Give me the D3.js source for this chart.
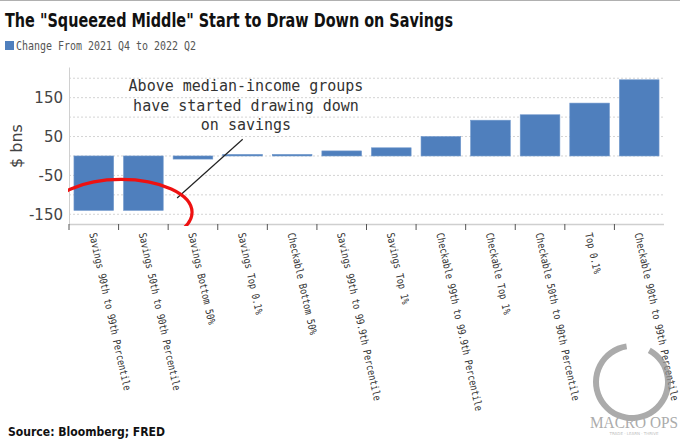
<!DOCTYPE html>
<html>
<head>
<meta charset="utf-8">
<script src="https://cdn.jsdelivr.net/npm/d3@7"></script>
<style>
  body { margin: 0; background: #fff; }
  svg { display: block; }
</style>
</head>
<body>
<script>
// chart data
var categories = [
  "Savings 90th to 99th Percentile",
  "Savings 50th to 90th Percentile",
  "Savings Bottom 50%",
  "Savings Top 0.1%",
  "Checkable Bottom 50%",
  "Savings 99th to 99.9th Percentile",
  "Savings Top 1%",
  "Checkable 99th to 99.9th Percentile",
  "Checkable Top 1%",
  "Checkable 50th to 90th Percentile",
  "Top 0.1%",
  "Checkable 90th to 99th Percentile"
];
var values = [-140, -140, -8, 4, 4, 13, 21, 50, 92, 106, 136, 196];
var yTicks = [150, 50, -50, -150];
var yTickLabels = ["150", "50", "-50", "-150"];
var gridValues = [200, 150, 100, 50, 0, -50, -100, -150];
var noteLines = ["Above median-income groups", "have started drawing down", "on savings"];

var W = 680, H = 439;
// plot box (note: "top" is a reserved window global, so use pTop etc.)
var pLeft = 69, pRight = 664, pTop = 68.5, pBottom = 224;

var svg = d3.select("body").append("svg").attr("width", W).attr("height", H);

var x = d3.scaleBand()
    .domain(categories)
    .range([pLeft, pRight])
    .paddingInner(0.2)
    .paddingOuter(0.1);

var y = d3.scaleLinear()
    .domain([-175, 225])
    .range([pBottom, pTop]);

var step = x.step();

// top rule
svg.append("line")
    .attr("x1", 0).attr("x2", W).attr("y1", 0.5).attr("y2", 0.5)
    .attr("stroke", "#b0b0b0").attr("stroke-width", 1);

// title + legend
svg.append("text")
    .attr("x", 5).attr("y", 27)
    .attr("font-family", "DejaVu Sans")
    .attr("font-weight", "bold")
    .attr("font-size", 19)
    .attr("textLength", 448)
    .attr("lengthAdjust", "spacingAndGlyphs")
    .attr("fill", "#111")
    .text('The "Squeezed Middle" Start to Draw Down on Savings');

svg.append("rect")
    .attr("x", 5).attr("y", 41).attr("width", 9).attr("height", 9)
    .attr("fill", "#4f7fbd");
svg.append("text")
    .attr("x", 16).attr("y", 50)
    .attr("font-family", "DejaVu Sans Mono")
    .attr("font-size", 12.5)
    .attr("textLength", 180)
    .attr("lengthAdjust", "spacingAndGlyphs")
    .attr("fill", "#555")
    .text("Change From 2021 Q4 to 2022 Q2");

// gridlines
svg.selectAll("line.grid")
    .data(gridValues)
    .enter().append("line")
    .attr("class", "grid")
    .attr("x1", pLeft).attr("x2", pRight)
    .attr("y1", function(d){ return y(d); })
    .attr("y2", function(d){ return y(d); })
    .attr("stroke", "#d4d4d4")
    .attr("stroke-dasharray", "2,2");

// left axis line
svg.append("line")
    .attr("x1", pLeft + 0.5).attr("x2", pLeft + 0.5)
    .attr("y1", pTop - 1).attr("y2", pBottom)
    .attr("stroke", "#d0d0d0");

// y tick labels
svg.selectAll("text.ytick")
    .data(yTicks)
    .enter().append("text")
    .attr("class", "ytick")
    .attr("x", 63)
    .attr("y", function(d){ return y(d); })
    .attr("dy", "0.36em")
    .attr("text-anchor", "end")
    .attr("font-family", "DejaVu Sans")
    .attr("font-size", 15)
    .attr("fill", "#444")
    .text(function(d, i){ return yTickLabels[i]; });

svg.append("text")
    .attr("transform", "translate(22,146) rotate(-90)")
    .attr("text-anchor", "middle")
    .attr("font-family", "DejaVu Sans")
    .attr("font-size", 16)
    .attr("fill", "#444")
    .text("$ bns");

// bars
svg.selectAll("rect.bar")
    .data(values)
    .enter().append("rect")
    .attr("class", "bar")
    .attr("x", function(d, i){ return x(categories[i]); })
    .attr("width", x.bandwidth())
    .attr("y", function(d){ return d > 0 ? y(d) : y(0); })
    .attr("height", function(d){ return Math.abs(y(d) - y(0)); })
    .attr("fill", "#4f7fbd")
    .attr("stroke", "#6f97cc")
    .attr("stroke-width", 0.6);

// x axis line + ticks
svg.append("line")
    .attr("x1", pLeft).attr("x2", pRight)
    .attr("y1", pBottom + 0.5).attr("y2", pBottom + 0.5)
    .attr("stroke", "#cfcfcf").attr("stroke-width", 1.5);

var tickPos = categories.map(function(c){ return x(c) - step * 0.1; });
svg.selectAll("line.xtick")
    .data(tickPos)
    .enter().append("line")
    .attr("class", "xtick")
    .attr("x1", function(d){ return d; })
    .attr("x2", function(d){ return d; })
    .attr("y1", pBottom).attr("y2", pBottom + 6)
    .attr("stroke", "#555");

// x labels
svg.selectAll("text.xlab")
    .data(categories)
    .enter().append("text")
    .attr("class", "xlab")
    .attr("transform", function(d){
      return "translate(" + (x(d) + x.bandwidth() / 2 - 1) + "," + (pBottom + 9) + ") rotate(77.5)";
    })
    .attr("dy", "0.35em")
    .attr("font-family", "DejaVu Sans Mono")
    .attr("font-size", 10.5)
    .attr("textLength", function(d){ return d.length * 5.2; })
    .attr("lengthAdjust", "spacingAndGlyphs")
    .attr("fill", "#333")
    .text(function(d){ return d; });

// annotation
svg.selectAll("text.note")
    .data(noteLines)
    .enter().append("text")
    .attr("class", "note")
    .attr("x", 246)
    .attr("y", function(d, i){ return 91 + i * 19.5; })
    .attr("text-anchor", "middle")
    .attr("font-family", "DejaVu Sans Mono")
    .attr("font-size", 15)
    .attr("fill", "#333")
    .text(function(d){ return d; });

svg.append("line")
    .attr("x1", x(categories[2]) + 4).attr("y1", y(-108))
    .attr("x2", x(categories[3]) + 20).attr("y2", y(43))
    .attr("stroke", "#222").attr("stroke-width", 1.2);

svg.append("clipPath").attr("id", "plotclip")
  .append("rect")
    .attr("x", pLeft - 1).attr("y", 0)
    .attr("width", pRight - pLeft).attr("height", pBottom + 2);

svg.append("ellipse")
    .attr("clip-path", "url(#plotclip)")
    .attr("cx", x(categories[1]) - step * 0.05)
    .attr("cy", y(-145))
    .attr("rx", 71).attr("ry", 33)
    .attr("fill", "none")
    .attr("stroke", "#ee1111")
    .attr("stroke-width", 3.2);

// source
svg.append("text")
    .attr("x", 8).attr("y", 436)
    .attr("font-family", "DejaVu Sans")
    .attr("font-weight", "bold")
    .attr("font-size", 12)
    .attr("textLength", 157)
    .attr("lengthAdjust", "spacingAndGlyphs")
    .attr("fill", "#111")
    .text("Source: Bloomberg; FRED");

// watermark
var wm = svg.append("g").attr("opacity", 0.75);
wm.append("path")
    .attr("transform", "translate(632,382)")
    .attr("d", d3.arc().innerRadius(33).outerRadius(39).startAngle(0.5).endAngle(2 * Math.PI - 0.15)())
    .attr("fill", "#8f8f8f");
wm.append("text")
    .attr("x", 634).attr("y", 428)
    .attr("text-anchor", "middle")
    .attr("font-family", "Liberation Serif")
    .attr("font-size", 17)
    .attr("textLength", 88)
    .attr("lengthAdjust", "spacingAndGlyphs")
    .attr("fill", "#8f8f8f")
    .text("MACRO OPS");
wm.append("text")
    .attr("x", 634).attr("y", 435)
    .attr("text-anchor", "middle")
    .attr("font-family", "DejaVu Sans")
    .attr("font-size", 4)
    .attr("fill", "#aaa")
    .text("TRADE · LEARN · THRIVE");
</script>
</body>
</html>
